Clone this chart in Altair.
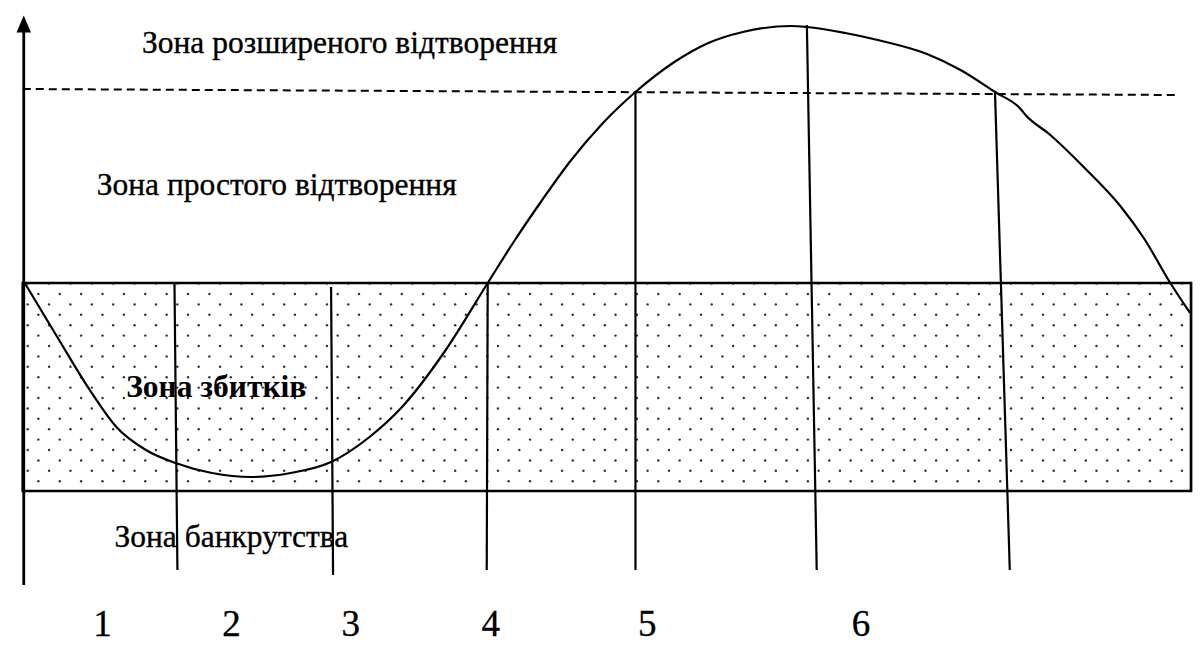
import altair as alt
import pandas as pd
import numpy as np

# ---- reference canvas (pixel coordinates of the original 1203x657 drawing) ----
CANVAS_W = 1203
W, H = 1185, 637
Y_TOP, Y_BOTTOM = 8, 8 + H          # vertical mapping is 1:1 with the page

# ---- the business-cycle curve ----
curve_x = [17, 50, 83, 110, 140, 170, 207, 247, 287, 328, 367, 400, 443, 487, 514, 543,
           571, 604, 637, 675, 711, 746, 795, 811, 850, 883, 933, 967, 1002, 1028, 1033,
           1057, 1093, 1130, 1153, 1180, 1200]
curve_y = [283, 337, 390, 427, 450, 463, 473, 477, 473, 462, 437, 407, 352, 283, 241, 199,
           161, 123, 92, 63, 43, 32, 26, 27, 33, 40, 54, 70, 92, 109, 115,
           134, 168, 207, 238, 283, 313]

# ---- vertical stage-dividing lines ----
div_x_top = [169, 328, 487, 637, 811, 1002]
div_y_top = [283, 287, 283, 92, 25, 93]
div_x_bot = [172, 330, 486, 637, 821, 1017]
div_y_bot = [570, 575, 570, 570, 570, 570]

# ---- loss zone rectangle ----
rect_left, rect_right, rect_top, rect_bottom = [15], [1201], [283], [491]

# ---- dashed threshold line ----
dash_x, dash_y, dash_x2, dash_y2 = [15], [89], [1185], [95]

# ---- vertical axis ----
axis_x, axis_top, axis_bottom = [16], [30], [585]
arrow_x, arrow_y = [16], [24]

# ---- texts ----
zone_text = ["Зона розширеного відтворення", "Зона простого відтворення", "Зона банкрутства"]
zone_x = [136, 90, 108]
zone_y = [53, 195, 547]
loss_text = ["Зона збитків"]
loss_x = [120]
loss_y = [397]

stage_labels = ["1", "2", "3", "4", "5", "6"]
stage_x = [96, 227, 348, 490, 649, 866]
stage_y = [636, 636, 636, 636, 636, 636]

# ---- dotted fill texture of the loss zone ----
row_step, col_step = 10.4, 21.7
dots = []
for j, yy in enumerate(np.arange(rect_top[0] + 0.6, rect_bottom[0] - 3, row_step)):
    start = rect_left[0] + 5 + (col_step / 2 if j % 2 else 0)
    for xx in np.arange(start, rect_right[0] - 2, col_step):
        dots.append({"x": float(xx), "y": float(yy)})
dots_df = pd.DataFrame(dots)

xs = alt.Scale(domain=[0, CANVAS_W], nice=False, zero=False)
ys = alt.Scale(domain=[Y_BOTTOM, Y_TOP], nice=False, zero=False)
FONT = "Liberation Serif"
TEXT_SIZE = 31.5


def X(f):
    return alt.X(f, type="quantitative", scale=xs, axis=None)


def Y(f):
    return alt.Y(f, type="quantitative", scale=ys, axis=None)


dot_layer = alt.Chart(dots_df).mark_circle(size=6, color="#333333", opacity=1).encode(
    x=X("x"), y=Y("y"))

rect_layer = alt.Chart(pd.DataFrame({"l": rect_left, "r": rect_right, "t": rect_top, "b": rect_bottom})).mark_rect(
    fillOpacity=0, stroke="black", strokeWidth=2.7).encode(
    x=X("l"), x2="r", y=Y("t"), y2="b")

curve_df = pd.DataFrame({"x": curve_x, "y": curve_y, "i": range(len(curve_x))})
curve_layer = alt.Chart(curve_df).mark_line(color="black", strokeWidth=2.2, interpolate="monotone").encode(
    x=X("x"), y=Y("y"), order="i:Q")

div_df = pd.DataFrame({"x": div_x_top, "y": div_y_top, "x2": div_x_bot, "y2": div_y_bot})
div_layer = alt.Chart(div_df).mark_rule(color="black", strokeWidth=2.2).encode(
    x=X("x"), y=Y("y"), x2="x2", y2="y2")

dash_df = pd.DataFrame({"x": dash_x, "y": dash_y, "x2": dash_x2, "y2": dash_y2})
dash_layer = alt.Chart(dash_df).mark_rule(color="black", strokeWidth=2, strokeDash=[8, 5]).encode(
    x=X("x"), y=Y("y"), x2="x2", y2="y2")

axis_df = pd.DataFrame({"x": axis_x, "y": axis_top, "y2": axis_bottom})
axis_layer = alt.Chart(axis_df).mark_rule(color="black", strokeWidth=2.8).encode(
    x=X("x"), y=Y("y"), y2="y2")

arrow_df = pd.DataFrame({"x": arrow_x, "y": arrow_y})
arrow_layer = alt.Chart(arrow_df).mark_point(
    shape="M0,-1L0.85,1L-0.85,1Z", size=17 ** 2, filled=True, color="black", opacity=1,
    strokeWidth=0).encode(x=X("x"), y=Y("y"))

zone_df = pd.DataFrame({"t": zone_text, "x": zone_x, "y": zone_y})
zone_layer = alt.Chart(zone_df).mark_text(
    align="left", baseline="alphabetic", font=FONT, fontSize=TEXT_SIZE, color="black",
    stroke="black", strokeWidth=0.35).encode(
    x=X("x"), y=Y("y"), text="t:N")

loss_df = pd.DataFrame({"t": loss_text, "x": loss_x, "y": loss_y})
loss_layer = alt.Chart(loss_df).mark_text(
    align="left", baseline="alphabetic", font=FONT, fontSize=TEXT_SIZE, fontWeight="bold", color="black").encode(
    x=X("x"), y=Y("y"), text="t:N")

stage_df = pd.DataFrame({"t": stage_labels, "x": stage_x, "y": stage_y})
stage_layer = alt.Chart(stage_df).mark_text(
    align="center", baseline="alphabetic", font=FONT, fontSize=37, color="black",
    stroke="black", strokeWidth=0.35).encode(
    x=X("x"), y=Y("y"), text="t:N")

chart = alt.layer(
    dot_layer, rect_layer, curve_layer, div_layer, dash_layer, axis_layer, arrow_layer,
    zone_layer, loss_layer, stage_layer
).properties(
    width=W, height=H, padding=0, autosize=alt.AutoSizeParams(type="none"), background="white"
).configure_view(strokeWidth=0)

chart.save("out.html", embed_options={"renderer": "svg", "actions": False})
